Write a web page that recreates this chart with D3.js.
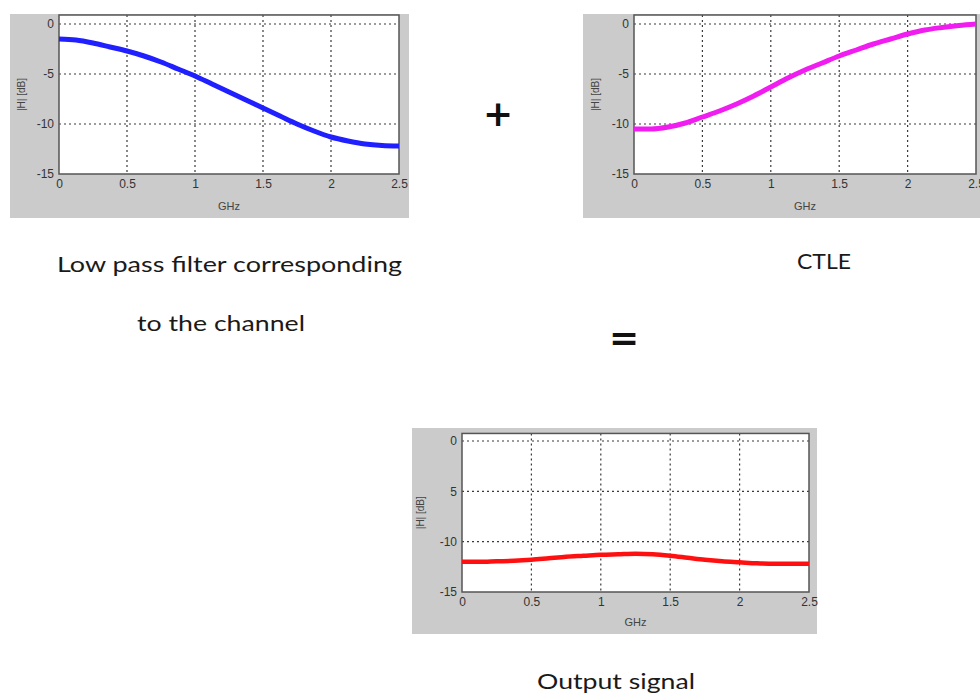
<!DOCTYPE html>
<html>
<head>
<meta charset="utf-8">
<script src="https://cdn.jsdelivr.net/npm/d3@7"></script>
<style>
  html, body { margin: 0; padding: 0; background: #fff; }
  svg { display: block; }
</style>
</head>
<body>
<svg id="chart" width="980" height="696"></svg>
<script>
// ---- data ----
const freqGHz   = [0, 0.125, 0.25, 0.375, 0.5, 0.625, 0.75, 0.875, 1.0, 1.125, 1.25, 1.375, 1.5, 1.625, 1.75, 1.875, 2.0, 2.125, 2.25, 2.375, 2.5];
const lowPassDb = [-1.5, -1.6, -1.9, -2.3, -2.7, -3.2, -3.8, -4.5, -5.2, -6.0, -6.8, -7.6, -8.4, -9.2, -10.0, -10.7, -11.3, -11.7, -12.0, -12.15, -12.2];
const ctleDb    = [-10.5, -10.5, -10.3, -9.9, -9.3, -8.7, -8.0, -7.2, -6.3, -5.4, -4.6, -3.9, -3.2, -2.6, -2.0, -1.5, -1.0, -0.6, -0.35, -0.15, 0.0];
const outputDb  = [-12.0, -12.0, -11.95, -11.9, -11.8, -11.65, -11.5, -11.4, -11.3, -11.25, -11.2, -11.25, -11.4, -11.6, -11.8, -11.95, -12.05, -12.15, -12.2, -12.2, -12.2];
const xTicks = [0, 0.5, 1, 1.5, 2, 2.5];
const xTickLabels = ["0", "0.5", "1", "1.5", "2", "2.5"];
const yTicks = [0, -5, -10, -15];
const yTickLabelsA = ["0", "-5", "-10", "-15"];
const yTickLabelsC = ["0", "5", "-10", "-15"];
const xAxisTitle = "GHz";
const yAxisTitle = "|H| [dB]";
const captions = ["Low pass filter corresponding", "to the channel", "CTLE", "Output signal"];
const operators = ["+", "="];

// ---- drawing ----
const svg = d3.select("#chart");

function panel(cfg, values, color, yLabels) {
  const g = svg.append("g");
  g.append("rect")
    .attr("x", cfg.px0).attr("y", cfg.py0)
    .attr("width", cfg.px1 - cfg.px0).attr("height", cfg.py1 - cfg.py0)
    .attr("fill", "#cbcbcb");

  const x = d3.scaleLinear().domain([0, 2.5]).range([cfg.x0, cfg.x1]);
  const y = d3.scaleLinear().domain([-15, 0]).range([cfg.yBottom, cfg.yZero]);
  const yTop = y(cfg.yMax);

  g.append("rect")
    .attr("x", x(0)).attr("y", yTop)
    .attr("width", x(2.5) - x(0)).attr("height", y(-15) - yTop)
    .attr("fill", "#ffffff");

  // grid
  g.selectAll(".vg").data(xTicks.slice(1, -1)).join("line")
    .attr("x1", d => x(d)).attr("x2", d => x(d))
    .attr("y1", yTop).attr("y2", y(-15))
    .attr("stroke", "#3a3a3a").attr("stroke-width", 1.2)
    .attr("stroke-dasharray", "2,3");
  g.selectAll(".hg").data(yTicks.slice(0, -1)).join("line")
    .attr("x1", x(0)).attr("x2", x(2.5))
    .attr("y1", d => y(d)).attr("y2", d => y(d))
    .attr("stroke", "#3a3a3a").attr("stroke-width", 1.2)
    .attr("stroke-dasharray", "2,3");

  // axes with d3
  const xAxis = d3.axisBottom(x).tickValues(xTicks)
    .tickFormat((d, i) => xTickLabels[i]).tickSize(0).tickPadding(5);
  const yAxis = d3.axisLeft(y).tickValues(yTicks)
    .tickFormat((d, i) => yLabels[i]).tickSize(0).tickPadding(5);
  const gx = g.append("g").attr("transform", `translate(0,${y(-15)})`).call(xAxis);
  const gy = g.append("g").attr("transform", `translate(${x(0)},0)`).call(yAxis);
  [gx, gy].forEach(a => {
    a.select(".domain").remove();
    a.selectAll("text").attr("fill", "#333").attr("font-size", 12)
      .attr("font-family", "Liberation Sans, Arial, sans-serif");
  });

  // box
  g.append("rect")
    .attr("x", x(0)).attr("y", yTop)
    .attr("width", x(2.5) - x(0)).attr("height", y(-15) - yTop)
    .attr("fill", "none").attr("stroke", "#555").attr("stroke-width", 1.5);

  // titles
  g.append("text")
    .attr("x", (x(0) + x(2.5)) / 2).attr("y", cfg.xTitleY)
    .attr("text-anchor", "middle").attr("font-size", 11).attr("fill", "#444")
    .attr("font-family", "Liberation Sans, Arial, sans-serif")
    .text(xAxisTitle);
  g.append("text")
    .attr("transform", `translate(${cfg.yTitleX},${(yTop + y(-15)) / 2}) rotate(-90)`)
    .attr("text-anchor", "middle").attr("font-size", 10).attr("fill", "#444")
    .attr("font-family", "Liberation Sans, Arial, sans-serif")
    .text(yAxisTitle);

  // curve
  const line = d3.line().x((d, i) => x(freqGHz[i])).y(d => y(d)).curve(d3.curveMonotoneX);
  g.append("path").datum(values)
    .attr("d", line).attr("fill", "none")
    .attr("stroke", color).attr("stroke-width", cfg.lw).attr("stroke-linecap", "butt");
}

panel({px0: 10, px1: 409, py0: 14, py1: 218, x0: 59, x1: 399, yZero: 24, yBottom: 174, yMax: 0.9,
       xTitleY: 210, yTitleX: 25, lw: 5}, lowPassDb, "#1f1fff", yTickLabelsA);
panel({px0: 583, px1: 990, py0: 14, py1: 218, x0: 634, x1: 976, yZero: 24, yBottom: 174, yMax: 0.9,
       xTitleY: 210, yTitleX: 599, lw: 5}, ctleDb, "#f01cf0", yTickLabelsA);
panel({px0: 412, px1: 817, py0: 428, py1: 634, x0: 462, x1: 809, yZero: 441, yBottom: 592, yMax: 0.75,
       xTitleY: 626, yTitleX: 424, lw: 4.5}, outputDb, "#ff1010", yTickLabelsC);

// captions
const capFont = "Lato, 'Open Sans', sans-serif";
const capPos = [
  {x: 57, y: 272, w: 345},
  {x: 137, y: 331, w: 168},
  {x: 797, y: 269, w: 54},
  {x: 537, y: 689, w: 158}
];
captions.forEach((t, i) => {
  svg.append("text")
    .attr("x", capPos[i].x).attr("y", capPos[i].y)
    .attr("font-family", capFont).attr("font-size", 22).attr("fill", "#1a1a1a")
    .attr("textLength", capPos[i].w).attr("lengthAdjust", "spacingAndGlyphs")
    .text(t);
});

// operators
svg.append("text").attr("x", 498).attr("y", 113).attr("dy", "0.35em")
  .attr("text-anchor", "middle").attr("font-family", "DejaVu Sans, sans-serif")
  .attr("font-weight", "bold").attr("font-size", 36).attr("fill", "#111")
  .text(operators[0]);
svg.append("text").attr("x", 624).attr("y", 337).attr("dy", "0.35em")
  .attr("text-anchor", "middle").attr("font-family", "DejaVu Sans, sans-serif")
  .attr("font-weight", "bold").attr("font-size", 36).attr("fill", "#111")
  .text(operators[1]);
</script>
</body>
</html>
